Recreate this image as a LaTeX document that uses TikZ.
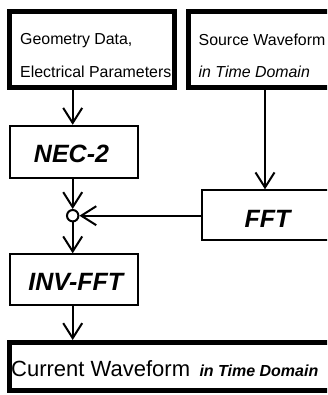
\documentclass[tikz,border=0pt]{standalone}
\usepackage{fontspec}
\setmainfont{Liberation Sans}
\usetikzlibrary{arrows.meta}
\tikzset{
  thickbox/.style={draw, line width=5pt, inner sep=0pt},
  thinbox/.style={draw, line width=2pt, inner sep=0pt},
  arr/.style={line width=2pt, -{Straight Barb[length=15pt,width=19pt]}},
  plainline/.style={line width=2pt},
  body/.style={inner sep=0pt, anchor=base west, font=\fontsize{15.9}{19}\selectfont},
  bigbi/.style={inner sep=0pt, anchor=base, font=\fontsize{25}{30}\selectfont\bfseries\itshape},
}
\begin{document}
\begin{tikzpicture}[x=1pt,y=-1pt]
\useasboundingbox (0,0) rectangle (327,395);
\clip (0,0) rectangle (327,395);
% boxes
\node[thickbox, minimum width=164.4pt, minimum height=76pt] (geo) at (92,49.5) {};
\node[thickbox, minimum width=153pt, minimum height=76pt] (src) at (265,49.5) {};
\node[thinbox, minimum width=128pt, minimum height=51.9pt] (nec) at (74,151.75) {};
\node[thinbox, minimum width=129.3pt, minimum height=50pt] (fft) at (266.35,215.3) {};
\node[draw, circle, line width=2pt, minimum size=11.4pt, inner sep=0pt] (sum) at (72.7,215.7) {};
\node[thinbox, minimum width=128pt, minimum height=50.7pt] (inv) at (74,279.65) {};
\node[thickbox, minimum width=330.2pt, minimum height=47.5pt] (cur) at (174.9,366.25) {};
% texts
\node[body] (g1) at (20,45) {Geometry Data,};
\node[body] (g2) at (20,77.7) {Electrical Parameters};
\node[body] (s1) at (198.5,45.7) {Source Waveform};
\node[body] (s2) at (198.5,77.7) {\itshape in Time Domain};
\node[bigbi] (t1) at (71.5,162.7) {NEC-2};
\node[bigbi] (t2) at (267.5,227) {FFT};
\node[bigbi] (t3) at (75.8,290.7) {INV-FFT};
\node[inner sep=0pt, anchor=base west, font=\fontsize{22}{26}\selectfont] (c1) at (11,376.7) {Current Waveform};
\node[inner sep=0pt, anchor=base west, font=\fontsize{16}{19}\selectfont\bfseries\itshape] (c2) at (199.3,376.7) {in Time Domain};
% connectors
\draw[arr] (geo.south -| sum) -- (nec.north -| sum);
\draw[arr] (nec.south -| sum) -- (sum.north);
\draw[arr] (fft.west |- sum) -- (sum.east);
\draw[arr] (src.south) -- (src.south |- fft.north);
\draw[arr] (sum.south) -- (inv.north -| sum);
\draw[arr] (inv.south -| sum) -- (cur.north -| sum);
\end{tikzpicture}
\end{document}
